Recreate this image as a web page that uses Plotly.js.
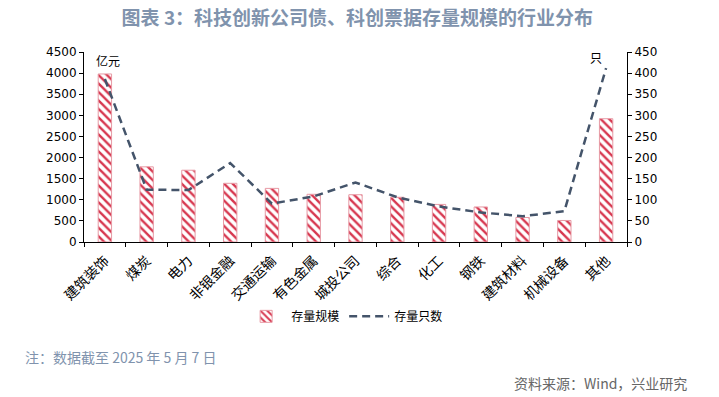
<!DOCTYPE html>
<html>
<head>
<meta charset="utf-8">
<script src="https://cdn.plot.ly/plotly-3.0.1.min.js"></script>
<style>
html,body{margin:0;padding:0;background:#fff;}
#chart{width:719px;height:397px;}
</style>
</head>
<body>
<div id="chart"></div>
<script>
const categories = ["建筑装饰","煤炭","电力","非银金融","交通运输","有色金属","城投公司","综合","化工","钢铁","建筑材料","机械设备","其他"];
const scaleValues = [3980,1780,1700,1390,1270,1130,1120,1060,890,830,580,510,2920];
const countValues = [386,124,123,187,91,108,141,106,84,70,61,73,412];
const leftTicks = [0,500,1000,1500,2000,2500,3000,3500,4000,4500];
const rightTicks = [0,50,100,150,200,250,300,350,400,450];

const cjk = '"Noto Sans CJK SC", "Noto Sans", sans-serif';
const num = 'Tahoma, "DejaVu Sans", sans-serif';

const traces = [
  {
    type: 'bar', name: '存量规模', x: categories, y: scaleValues, yaxis: 'y',
    width: 0.32,
    marker: {
      color: '#ffffff',
      line: {color: '#e79aa5', width: 1},
      pattern: {shape: '\\', fgcolor: '#d7374f', bgcolor: '#ffffff', size: 6, solidity: 0.4}
    }
  },
  {
    type: 'scatter', mode: 'lines', name: '存量只数', x: categories, y: countValues, yaxis: 'y2',
    line: {color: '#44546a', width: 2.5, dash: '8px,5px'}
  }
];

const layout = {
  width: 719, height: 397,
  margin: {l: 84, r: 92, t: 52, b: 155},
  paper_bgcolor: '#ffffff', plot_bgcolor: '#ffffff',
  showlegend: true,
  legend: {orientation: 'h', x: 0.48, xanchor: 'center', y: -0.315, yanchor: 'top',
           font: {family: cjk, size: 12, color: '#000'}, itemwidth: 40, tracegroupgap: 0},
  xaxis: {
    type: 'category', showline: true, linecolor: '#000', linewidth: 1,
    ticks: 'outside', ticklen: 4, tickcolor: '#000', tickson: 'boundaries',
    tickangle: -45, tickfont: {family: cjk, size: 14, color: '#000'}, ticklabelstandoff: 4,
    showgrid: false, zeroline: false
  },
  yaxis: {
    range: [0, 4500], tickvals: leftTicks, showline: true, linecolor: '#000', linewidth: 1,
    ticks: 'outside', ticklen: 4, tickcolor: '#000', showgrid: false, zeroline: false,
    tickfont: {family: num, size: 12, color: '#000'}
  },
  yaxis2: {
    range: [0, 450], tickvals: rightTicks, overlaying: 'y', side: 'right',
    showline: true, linecolor: '#000', linewidth: 1,
    ticks: 'outside', ticklen: 4, tickcolor: '#000', showgrid: false, zeroline: false,
    tickfont: {family: num, size: 12, color: '#000'}
  },
  title: {text: '<b>图表 3：科技创新公司债、科创票据存量规模的行业分布</b>', x: 0.497, xanchor: 'center', y: 0.955, yanchor: 'middle',
          font: {family: cjk, size: 19, color: '#8093ad'}},
  annotations: [
    {text: '亿元', xref: 'paper', yref: 'paper', x: 0.045, y: 0.955, xanchor: 'center', yanchor: 'middle', showarrow: false,
     font: {family: cjk, size: 12, color: '#000'}},
    {text: '只', xref: 'paper', yref: 'paper', x: 0.942, y: 0.97, xanchor: 'center', yanchor: 'middle', showarrow: false,
     font: {family: cjk, size: 12, color: '#000'}},
    {text: '注：数据截至 2025 年 5 月 7 日', xref: 'paper', yref: 'paper', x: -0.1123, y: -0.605, xanchor: 'left', yanchor: 'middle', showarrow: false,
     font: {family: cjk, size: 14, color: '#8093ad'}},
    {text: '资料来源：Wind，兴业研究', xref: 'paper', yref: 'paper', x: 1.114, y: -0.742, xanchor: 'right', yanchor: 'middle', showarrow: false,
     font: {family: cjk, size: 14, color: '#666666'}}
  ]
};

Plotly.newPlot('chart', traces, layout, {displayModeBar: false, staticPlot: true});
</script>
</body>
</html>
